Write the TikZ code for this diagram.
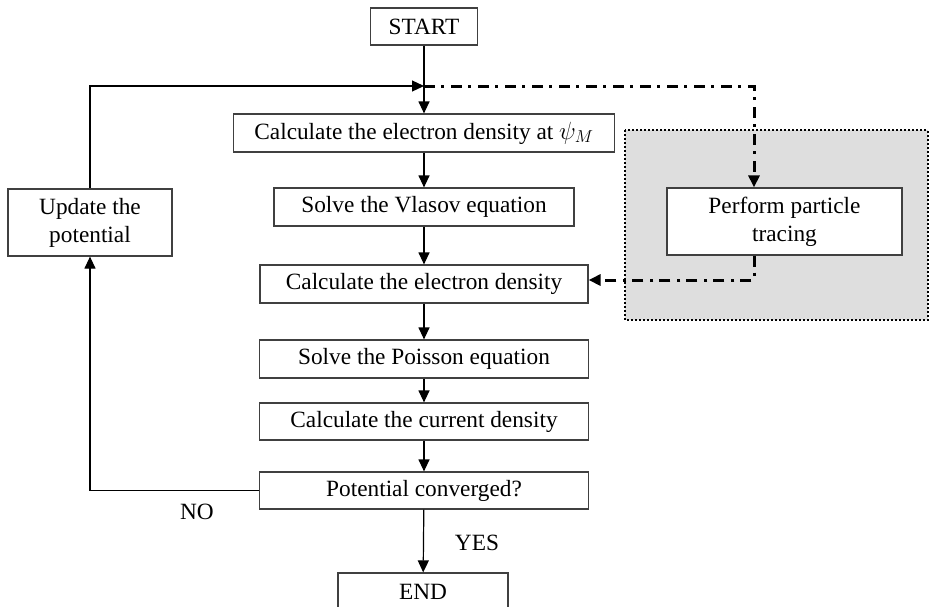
\documentclass[tikz,border=0pt]{standalone}
\usepackage{fontspec}
\setmainfont{Liberation Serif}
\usetikzlibrary{arrows.meta}
\tikzset{
	stepbox/.style={draw=black!75,line width=1.2pt,fill=white,inner sep=0pt,align=center,font=\fontsize{23.3}{28}\selectfont},
	flow/.style={line width=1.2pt,-{Triangle[length=12pt,width=11pt]}},
	dashdot/.style={line width=3pt,dash pattern=on 11pt off 6pt on 3pt off 7pt,-{Triangle[length=12pt,width=11pt]}},
	caption/.style={font=\fontsize{23.3}{28}\selectfont}
}

\begin{document}
\begin{tikzpicture}[x=1pt,y=-1pt]
	\clip (0,0) rectangle (929,606);
	
	% shaded region round the tracing step
	\draw[fill=black!13,line width=2pt,dash pattern=on 2pt off 2pt] (625,130) rectangle (927.5,320);
	
	\node[stepbox,minimum width=107pt,minimum height=37pt] (start) at (424,26.5) {START};
	\node[stepbox,minimum width=381pt,minimum height=38pt] (calcpsi) at (424,133) {Calculate the electron density at $\psi_M$};
	\node[stepbox,minimum width=300pt,minimum height=38pt] (vlasov) at (424,207) {Solve the Vlasov equation};
	\node[stepbox,minimum width=328pt,minimum height=38pt] (calced) at (424,284) {Calculate the electron density};
	\node[stepbox,minimum width=329pt,minimum height=38pt] (poisson) at (424,359) {Solve the Poisson equation};
	\node[stepbox,minimum width=329pt,minimum height=37pt] (current) at (424,421.5) {Calculate the current density};
	\node[stepbox,minimum width=329pt,minimum height=37pt] (conv) at (424,490.5) {Potential converged?};
	\node[stepbox,minimum width=170pt,minimum height=38pt] (finish) at (423,592) {END};
	
	\node[stepbox,minimum width=164pt,minimum height=67pt] (update) at (90,222.5) {Update the\\potential};
	\node[stepbox,minimum width=235pt,minimum height=67pt] (trace) at (784.5,221.5) {Perform particle\\tracing};
	
	\node[caption] (no) at (197,512) {NO};
	\node[caption] (yes) at (477,543) {YES};
	
	\coordinate (j) at (424,86);
	\coordinate (tin) at ([xshift=-30.5pt]trace.north);
	\coordinate (tout) at ([xshift=-30.5pt]trace.south);
	
	\draw[flow] (start) -- (calcpsi);
	\foreach \a/\b in {calcpsi/vlasov,vlasov/calced,calced/poisson,poisson/current,current/conv,conv/finish}
		\draw[flow] (\a) -- (\b);
	
	\draw[flow] (update.north) |- (j);
	\draw[flow] (conv.west) -| (update.south);
	
	\draw[dashdot] (j) -| (tin);
	\draw[dashdot] (tout) |- ([yshift=4pt]calced.east);
\end{tikzpicture}
\end{document}
